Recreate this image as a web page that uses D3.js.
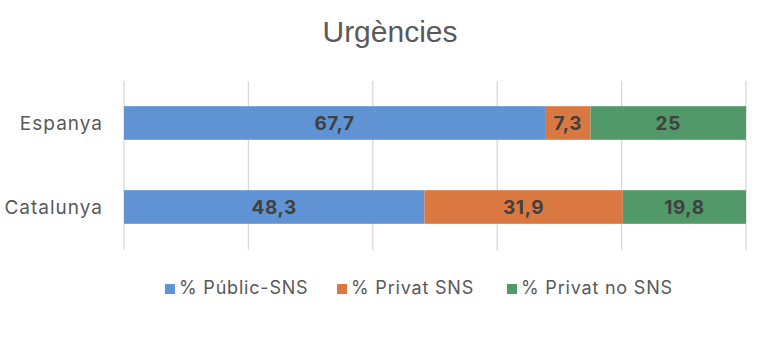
<!DOCTYPE html>
<html>
<head>
<meta charset="utf-8">
<script src="https://cdn.jsdelivr.net/npm/d3@7"></script>
<style>
  body { margin: 0; background: #fff; }
</style>
</head>
<body>
<div id="chart"></div>
<script>
const categories = ["Espanya", "Catalunya"];
const seriesNames = ["% Públic-SNS", "% Privat SNS", "% Privat no SNS"];
const publicSNS = [67.7, 48.3];
const privatSNS = [7.3, 31.9];
const privatNoSNS = [25, 19.8];
const gridTicks = [0, 20, 40, 60, 80, 100];

const colors = ["#5f93d3", "#d97841", "#519968"];
const width = 780, height = 350;

const svg = d3.select("#chart").append("svg")
    .attr("width", width)
    .attr("height", height);

// title
svg.append("text")
    .attr("x", 390)
    .attr("y", 42)
    .attr("text-anchor", "middle")
    .style("font-family", "'Liberation Sans', Arial, sans-serif")
    .style("font-size", "30px")
    .attr("fill", "#595959")
    .text("Urgències");

const x = d3.scaleLinear().domain([0, 100]).range([124, 746]);
const y = d3.scaleBand().domain(categories).range([81, 249]).paddingInner(0.6).paddingOuter(0.3);

// grid lines
svg.append("g").selectAll("line")
    .data(gridTicks)
    .enter().append("line")
    .attr("x1", d => x(d)).attr("x2", d => x(d))
    .attr("y1", 81).attr("y2", 250)
    .attr("stroke", "#d9d9d9")
    .attr("stroke-width", 1.3);

// stack
const rows = categories.map((c, i) => ({
    cat: c,
    [seriesNames[0]]: publicSNS[i],
    [seriesNames[1]]: privatSNS[i],
    [seriesNames[2]]: privatNoSNS[i]
}));
const stacked = d3.stack().keys(seriesNames)(rows);

const layers = svg.append("g").selectAll("g")
    .data(stacked)
    .enter().append("g")
    .attr("fill", (d, i) => colors[i]);

layers.selectAll("rect")
    .data(d => d)
    .enter().append("rect")
    .attr("x", d => x(d[0]))
    .attr("y", d => y(d.data.cat))
    .attr("width", d => x(d[1]) - x(d[0]))
    .attr("height", y.bandwidth());

const fmt = v => String(v).replace(".", ",");
layers.selectAll("text")
    .data(d => d)
    .enter().append("text")
    .attr("x", d => (x(d[0]) + x(d[1])) / 2)
    .attr("y", d => y(d.data.cat) + y.bandwidth() / 2)
    .attr("dy", "0.36em")
    .attr("text-anchor", "middle")
    .attr("fill", "#404040")
    .style("font-family", "Inter, 'Open Sans', sans-serif")
    .style("font-weight", "bold")
    .style("font-size", "19px")
    .style("letter-spacing", "0.6px")
    .text(d => fmt(+(d[1] - d[0]).toFixed(1)));

// category labels
svg.append("g").selectAll("text")
    .data(categories)
    .enter().append("text")
    .attr("x", 103)
    .attr("y", d => y(d) + y.bandwidth() / 2)
    .attr("dy", "0.36em")
    .attr("text-anchor", "end")
    .attr("fill", "#595959")
    .style("font-family", "Inter, 'Open Sans', sans-serif")
    .style("font-size", "19px")
    .style("letter-spacing", "1px")
    .text(d => d);

// legend
const legendX = [165, 337, 507];
const legend = svg.append("g").selectAll("g")
    .data(seriesNames)
    .enter().append("g")
    .attr("transform", (d, i) => `translate(${legendX[i]}, 284)`);

legend.append("rect")
    .attr("width", 10).attr("height", 10)
    .attr("fill", (d, i) => colors[i]);

legend.append("text")
    .attr("x", 14)
    .attr("y", 9.5)
    .attr("fill", "#595959")
    .style("font-family", "Inter, 'Open Sans', sans-serif")
    .style("font-size", "18px")
    .style("letter-spacing", "0.8px")
    .text(d => d);
</script>
</body>
</html>
